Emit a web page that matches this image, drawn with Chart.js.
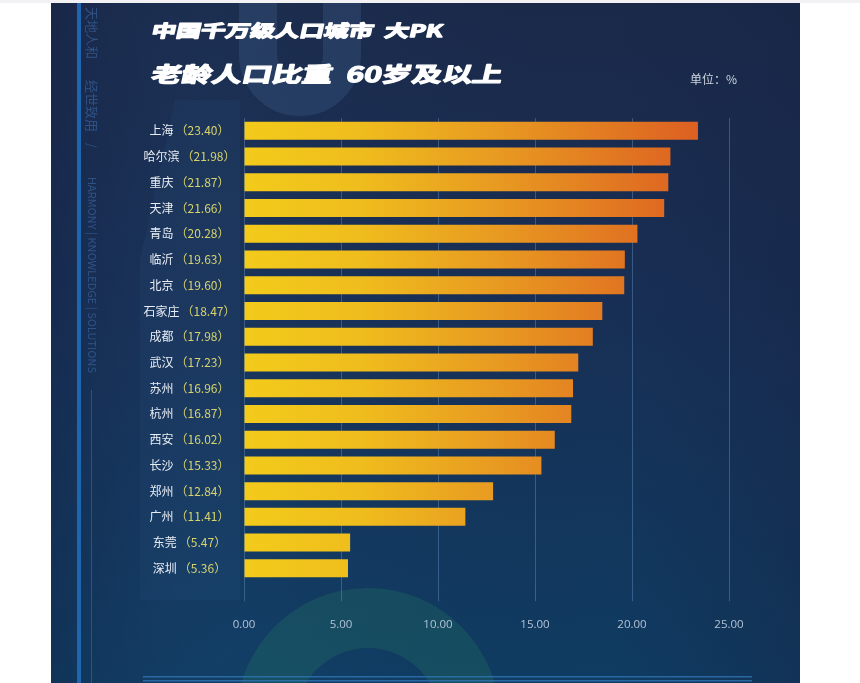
<!DOCTYPE html>
<html>
<head>
<meta charset="utf-8">
<script src="https://cdn.jsdelivr.net/npm/chart.js@4.4.1/dist/chart.umd.min.js"></script>
<style>
  html, body { margin: 0; padding: 0; background: #fff; }
  #wrap { width: 860px; height: 683px; position: relative; }
  canvas { display: block; }
</style>
</head>
<body>
<div id="wrap"><canvas id="chart"></canvas></div>
<script>
// Share of population aged 60+ in Chinese cities with over 10 million residents (%)
const cities = ['上海', '哈尔滨', '重庆', '天津', '青岛', '临沂', '北京', '石家庄', '成都',
                '武汉', '苏州', '杭州', '西安', '长沙', '郑州', '广州', '东莞', '深圳'];
const shares = [23.40, 21.98, 21.87, 21.66, 20.28, 19.63, 19.60, 18.47, 17.98,
                17.23, 16.96, 16.87, 16.02, 15.33, 12.84, 11.41, 5.47, 5.36];
const xTicks = [0, 5, 10, 15, 20, 25];

const titleTop    = '中国千万级人口城市  大PK';
const titleMain   = '老龄人口比重  60岁及以上';
const unitText    = '单位：%';
const sideCn1     = '天地人和';
const sideCn2     = '经世致用';
const sideEn      = 'HARMONY | KNOWLEDGE | SOLUTIONS';

const CJK = '"Noto Sans CJK SC", "Noto Sans", sans-serif';

(function () {
  'use strict';

  // Bars share one horizontal yellow -> orange gradient across the plot.
  function barFill(ctx) {
    const area = ctx.chart.chartArea;
    if (!area) return '#f0c31c';
    const g = ctx.chart.ctx.createLinearGradient(area.left, 0, area.left + 460, 0);
    g.addColorStop(0, '#f3cb1b');
    g.addColorStop(0.25, '#efbd1d');
    g.addColorStop(0.55, '#e89a21');
    g.addColorStop(1, '#dc5e22');
    return g;
  }

  function slantText(c, text, x, y, size, width) {
    c.save();
    c.font = 'bold ' + size + 'px ' + CJK;
    const sx = width / c.measureText(text).width;
    c.setTransform(sx, 0, -0.22, 1, x, y);
    c.textBaseline = 'middle';
    c.fillStyle = '#ffffff';
    c.strokeStyle = '#ffffff';
    c.lineWidth = 1.3;
    c.lineJoin = 'round';
    c.fillText(text, 0, 0);
    c.strokeText(text, 0, 0);
    c.restore();
  }

  const backdrop = {
    id: 'backdrop',
    beforeDraw(chart) {
      const c = chart.ctx;
      c.save();
      c.fillStyle = '#ffffff';
      c.fillRect(0, 0, chart.width, chart.height);
      c.fillStyle = '#f2f2f4';
      c.fillRect(0, 0, chart.width, 3);

      // panel
      const px = 51, py = 3, pw = 749, ph = 680;
      c.beginPath();
      c.rect(px, py, pw, ph);
      c.clip();
      const bg = c.createLinearGradient(0, py, 0, py + ph);
      bg.addColorStop(0, '#1b2949');
      bg.addColorStop(0.45, '#182f55');
      bg.addColorStop(1, '#0f3c62');
      c.fillStyle = bg;
      c.fillRect(px, py, pw, ph);
      const side = c.createLinearGradient(px, 0, px + pw, 0);
      side.addColorStop(0, 'rgba(20,35,70,0.35)');
      side.addColorStop(0.3, 'rgba(40,90,140,0.08)');
      side.addColorStop(0.75, 'rgba(20,35,70,0)');
      side.addColorStop(1, 'rgba(22,34,66,0.35)');
      c.fillStyle = side;
      c.fillRect(px, py, pw, ph);

      // big faint "U" behind the title
      c.strokeStyle = 'rgba(85,125,175,0.2)';
      c.lineWidth = 38;
      c.beginPath();
      c.moveTo(258, -10);
      c.lineTo(258, 55);
      c.arc(300, 55, 42, Math.PI, 0, true);
      c.lineTo(342, -10);
      c.stroke();

      // faint lighter area behind the city labels
      c.fillStyle = 'rgba(60,110,160,0.08)';
      c.beginPath();
      c.moveTo(175, 100);
      c.lineTo(240, 100);
      c.lineTo(240, 600);
      c.lineTo(140, 600);
      c.lineTo(140, 260);
      c.closePath();
      c.fill();

      // green ring at the bottom
      c.fillStyle = 'rgba(40,135,95,0.24)';
      c.beginPath();
      c.arc(368, 720, 132, 0, Math.PI * 2);
      c.arc(368, 720, 72, 0, Math.PI * 2, true);
      c.fill('evenodd');

      // left stripe and side text
      c.fillStyle = '#1e66ad';
      c.fillRect(77, py, 4, ph);
      c.fillStyle = 'rgba(60,110,170,0.55)';
      c.fillRect(91, 390, 1, ph);
      c.fillStyle = 'rgba(70,120,185,0.5)';
      c.textBaseline = 'middle';
      c.textAlign = 'left';
      [[sideCn1, 7, 13], [sideCn2, 80, 13], ['/', 143, 12], [sideEn, 177, 11]].forEach(([t, y, s]) => {
        c.save();
        c.translate(92, y);
        c.rotate(Math.PI / 2);
        c.font = s + 'px ' + CJK;
        c.fillText(t, 0, 0);
        c.restore();
      });

      // bottom double line
      c.fillStyle = 'rgba(50,120,185,0.75)';
      c.fillRect(143, 676, 609, 1.5);
      c.fillRect(143, 680, 609, 1.5);

      c.restore();

      slantText(c, titleTop, 152, 31, 17, 291);
      slantText(c, titleMain, 152, 74, 21, 351);

      c.save();
      c.font = '12px ' + CJK;
      c.fillStyle = '#cfd6e1';
      c.textBaseline = 'middle';
      c.fillText(unitText, 690, 79);
      c.restore();
    }
  };

  // City name (white) + value in brackets (yellow), centred in the label column.
  const cityLabels = {
    id: 'cityLabels',
    afterDraw(chart) {
      const c = chart.ctx;
      const yScale = chart.scales.y;
      c.save();
      c.font = '12px ' + CJK;
      c.textBaseline = 'middle';
      c.textAlign = 'left';
      cities.forEach((name, i) => {
        const val = '（' + shares[i].toFixed(2) + '）';
        const w1 = c.measureText(name).width + 2;
        const w2 = c.measureText(val).width;
        const y = yScale.getPixelForValue(i);
        const x = 189.5 - (w1 + w2) / 2;
        c.fillStyle = '#e8edf4';
        c.fillText(name, x, y);
        c.fillStyle = '#d6d36c';
        c.fillText(val, x + w1, y);
      });
      c.restore();
    }
  };

  new Chart(document.getElementById('chart'), {
    type: 'bar',
    data: {
      labels: cities,
      datasets: [{
        data: shares,
        backgroundColor: barFill,
        borderWidth: 0,
        barPercentage: 0.7,
        categoryPercentage: 1.0,
      }],
    },
    options: {
      indexAxis: 'y',
      responsive: true,
      maintainAspectRatio: false,
      animation: false,
      events: [],
      layout: { padding: { left: 244, right: 131, top: 118, bottom: 34 } },
      plugins: {
        legend: { display: false },
        tooltip: { enabled: false },
      },
      scales: {
        x: {
          min: 0,
          max: 25,
          afterBuildTicks: axis => { axis.ticks = xTicks.map(v => ({ value: v })); },
          ticks: {
            color: '#b3c2d6',
            font: { family: 'Open Sans', size: 11.5 },
            padding: 17,
            callback: v => Number(v).toFixed(2),
          },
          grid: {
            color: 'rgba(95,145,195,0.45)',
            lineWidth: 1,
            tickLength: 20,
          },
          border: { display: false },
        },
        y: {
          display: false,
        },
      },
    },
    plugins: [backdrop, cityLabels],
  });
})();
</script>
</body>
</html>
